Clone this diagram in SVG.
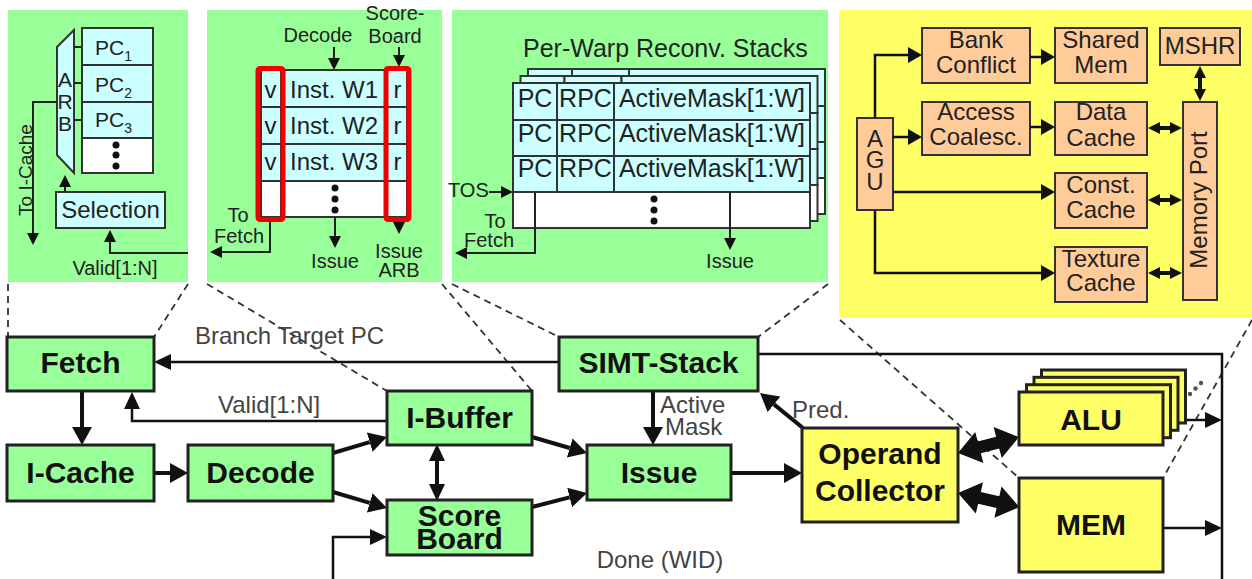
<svg xmlns="http://www.w3.org/2000/svg" width="1252" height="579" viewBox="0 0 1252 579">
<defs>
<style>
text{font-family:"Liberation Sans",Arial,Helvetica,sans-serif;fill:#222}
.node{fill:#99ff99;stroke:#222;stroke-width:3}
.ynode{fill:#ffff66;stroke:#222;stroke-width:3}
.panel{fill:#99ff99}
.ypanel{fill:#ffff66}
.cell{fill:#ccffff;stroke:#333;stroke-width:2}
.blank{fill:#fff;stroke:#333;stroke-width:2}
.mcell{fill:#ffcc99;stroke:#333;stroke-width:2}
.red{fill:none;stroke:#ee0000;stroke-width:5}
.lbl{font-size:30px;font-weight:bold;fill:#111;text-anchor:middle}
.note{font-size:24px;fill:#444}
.ptxt{font-size:20px;fill:#222}
.ctxt{font-size:24px;fill:#222}
.mid{text-anchor:middle}
.thick{fill:none;stroke:#111;stroke-width:4}
.thin{fill:none;stroke:#111;stroke-width:2.5}
.pline{fill:none;stroke:#222;stroke-width:2}
.zoom{fill:none;stroke:#333;stroke-width:1.8;stroke-dasharray:7 5}
.dot{fill:#111}
</style>
<marker id="hBig" markerUnits="userSpaceOnUse" viewBox="0 0 18 20" markerWidth="18" markerHeight="20" refX="0" refY="10" orient="auto-start-reverse"><path d="M0,0 L18,10 L0,20 z" fill="#111"/></marker>
<marker id="hMid" markerUnits="userSpaceOnUse" viewBox="0 0 17 16" markerWidth="17" markerHeight="16" refX="0" refY="8" orient="auto-start-reverse"><path d="M0,0 L17,8 L0,16 z" fill="#111"/></marker>
<marker id="hSm" markerUnits="userSpaceOnUse" viewBox="0 0 12 12" markerWidth="12" markerHeight="12" refX="0" refY="6" orient="auto-start-reverse"><path d="M0,0 L12,6 L0,12 z" fill="#111"/></marker>
<marker id="hMem" markerUnits="userSpaceOnUse" viewBox="0 0 14 16" markerWidth="14" markerHeight="16" refX="0" refY="8" orient="auto-start-reverse"><path d="M0,0 L14,8 L0,16 z" fill="#111"/></marker>
<!-- wide two-headed block arrow, 63 units long, drawn along +x -->
<path id="blockDbl" d="M0,0 L22,-16 L22,-6 L41,-6 L41,-16 L63,0 L41,16 L41,6 L22,6 L22,16 Z" fill="#111"/>
<!-- one layer of the reconvergence stack table (no text) -->
<g id="stkLayer">
<rect class="cell" x="513" y="83" width="44" height="37"/>
<rect class="cell" x="557" y="83" width="57" height="37"/>
<rect class="cell" x="614" y="83" width="196" height="37"/>
<rect class="cell" x="513" y="120" width="44" height="36"/>
<rect class="cell" x="557" y="120" width="57" height="36"/>
<rect class="cell" x="614" y="120" width="196" height="36"/>
<rect class="cell" x="513" y="156" width="44" height="36"/>
<rect class="cell" x="557" y="156" width="57" height="36"/>
<rect class="cell" x="614" y="156" width="196" height="36"/>
<rect class="blank" x="513" y="192" width="297" height="36"/>
</g>
<!-- one functional-unit plate -->
<rect id="aluPlate" class="ynode" x="1019" y="392" width="144" height="53"/>
</defs>

<rect width="1252" height="579" fill="#fff"/>

<!-- ===== detail: fetch arbitration ===== -->
<g id="detail-fetch">
<rect class="panel" x="8" y="10" width="180" height="272"/>
<polygon points="57,47 74,30 74,173 57,155" fill="#ccffff" stroke="#333" stroke-width="2"/>
<text x="65" y="87" font-size="21" class="mid">A</text>
<text x="65" y="109" font-size="21" class="mid">R</text>
<text x="65" y="131" font-size="21" class="mid">B</text>
<path class="pline" d="M74,47 H82 M74,83 H82 M74,120 H82"/>
<rect class="cell" x="82" y="28" width="71" height="37"/>
<rect class="cell" x="82" y="65" width="71" height="37"/>
<rect class="cell" x="82" y="102" width="71" height="36"/>
<rect class="blank" x="82" y="138" width="71" height="35"/>
<text x="95" y="55" font-size="21">PC<tspan font-size="14" dy="6">1</tspan></text>
<text x="95" y="92" font-size="21">PC<tspan font-size="14" dy="6">2</tspan></text>
<text x="95" y="127" font-size="21">PC<tspan font-size="14" dy="6">3</tspan></text>
<circle class="dot" cx="116" cy="145" r="3.5"/>
<circle class="dot" cx="116" cy="155" r="3.5"/>
<circle class="dot" cx="116" cy="166" r="3.5"/>
<rect class="cell" x="56" y="192" width="109" height="36"/>
<text x="110.5" y="218" font-size="24" class="mid">Selection</text>
<path class="pline" d="M57,102 H33 V233" marker-end="url(#hSm)"/>
<path class="pline" d="M65,192 V187" marker-end="url(#hSm)"/>
<path class="pline" d="M188,253 H110 V242" marker-end="url(#hSm)"/>
<text transform="translate(32,170) rotate(-90)" font-size="19" class="mid">To I-Cache</text>
<text x="115" y="275" class="ptxt mid">Valid[1:N]</text>
</g>

<!-- ===== detail: instruction buffer ===== -->
<g id="detail-ibuffer">
<rect class="panel" x="207" y="10" width="235" height="272"/>
<text x="318" y="42" class="ptxt mid">Decode</text>
<text x="395" y="20" class="ptxt mid">Score-</text>
<text x="395" y="43" class="ptxt mid">Board</text>
<path class="pline" d="M334,47 V58" marker-end="url(#hSm)"/>
<path class="pline" d="M399,47 V55" marker-end="url(#hSm)"/>
<rect class="cell" x="261" y="70" width="20" height="37"/>
<rect class="cell" x="281" y="70" width="106" height="37"/>
<rect class="cell" x="387" y="70" width="20" height="37"/>
<rect class="cell" x="261" y="107" width="20" height="37"/>
<rect class="cell" x="281" y="107" width="106" height="37"/>
<rect class="cell" x="387" y="107" width="20" height="37"/>
<rect class="cell" x="261" y="144" width="20" height="37"/>
<rect class="cell" x="281" y="144" width="106" height="37"/>
<rect class="cell" x="387" y="144" width="20" height="37"/>
<rect class="blank" x="261" y="181" width="20" height="36"/>
<rect class="blank" x="281" y="181" width="106" height="36"/>
<rect class="blank" x="387" y="181" width="20" height="36"/>
<rect class="red" x="258" y="68.5" width="25" height="151" rx="2"/>
<rect class="red" x="386" y="68.5" width="23" height="151" rx="2"/>
<text x="270.5" y="98" class="ctxt mid">v</text>
<text x="270.5" y="134" class="ctxt mid">v</text>
<text x="270.5" y="170" class="ctxt mid">v</text>
<text x="334" y="98" class="ctxt mid">Inst. W1</text>
<text x="334" y="134" class="ctxt mid">Inst. W2</text>
<text x="334" y="170" class="ctxt mid">Inst. W3</text>
<text x="397.5" y="98" class="ctxt mid">r</text>
<text x="397.5" y="134" class="ctxt mid">r</text>
<text x="397.5" y="170" class="ctxt mid">r</text>
<circle class="dot" cx="335" cy="188" r="3.5"/>
<circle class="dot" cx="335" cy="199" r="3.5"/>
<circle class="dot" cx="335" cy="210" r="3.5"/>
<path class="pline" d="M270,222 V252 H222" marker-end="url(#hSm)"/>
<path class="pline" d="M335,217 V236" marker-end="url(#hSm)"/>
<path class="pline" d="M399,221 V222" marker-end="url(#hSm)"/>
<text x="238" y="222" class="ptxt mid">To</text>
<text x="239" y="243" class="ptxt mid">Fetch</text>
<text x="335" y="268" class="ptxt mid">Issue</text>
<text x="399" y="258" class="ptxt mid">Issue</text>
<text x="399" y="277" class="ptxt mid">ARB</text>
</g>

<!-- ===== detail: per-warp reconvergence stacks ===== -->
<g id="detail-simt">
<rect class="panel" x="452" y="10" width="376" height="272"/>
<text x="523" y="57" font-size="25">Per-Warp Reconv. Stacks</text>
<use href="#stkLayer" transform="translate(15,-14)"/>
<use href="#stkLayer" transform="translate(7.5,-7)"/>
<use href="#stkLayer"/>
<g font-size="25" class="mid">
<text x="535" y="107">PC</text><text x="585.5" y="107">RPC</text><text x="712" y="107">ActiveMask[1:W]</text>
<text x="535" y="142">PC</text><text x="585.5" y="142">RPC</text><text x="712" y="142">ActiveMask[1:W]</text>
<text x="535" y="177">PC</text><text x="585.5" y="177">RPC</text><text x="712" y="177">ActiveMask[1:W]</text>
</g>
<circle class="dot" cx="654" cy="199" r="3.5"/>
<circle class="dot" cx="654" cy="210" r="3.5"/>
<circle class="dot" cx="654" cy="221" r="3.5"/>
<text x="448" y="197" class="ptxt">TOS</text>
<path class="pline" d="M489,192 H501" marker-end="url(#hSm)"/>
<path class="pline" d="M535,192 V253 H467" marker-end="url(#hSm)"/>
<path class="pline" d="M730,192 V238" marker-end="url(#hSm)"/>
<text x="495" y="228" class="ptxt mid">To</text>
<text x="489" y="247" class="ptxt mid">Fetch</text>
<text x="730" y="268" class="ptxt mid">Issue</text>
</g>

<!-- ===== detail: memory unit ===== -->
<g id="detail-mem">
<rect class="ypanel" x="839" y="10" width="413" height="308"/>
<rect class="mcell" x="922" y="28" width="108" height="55"/>
<text x="976" y="48" class="ctxt mid">Bank</text>
<text x="976" y="73" class="ctxt mid">Conflict</text>
<rect class="mcell" x="1055" y="28" width="92" height="55"/>
<text x="1101" y="48" class="ctxt mid">Shared</text>
<text x="1101" y="73" class="ctxt mid">Mem</text>
<rect class="mcell" x="1160" y="28" width="80" height="37"/>
<text x="1200" y="54" class="ctxt mid">MSHR</text>
<rect class="mcell" x="922" y="102" width="108" height="53"/>
<text x="976" y="120" class="ctxt mid">Access</text>
<text x="976" y="145" class="ctxt mid">Coalesc.</text>
<rect class="mcell" x="1055" y="102" width="92" height="53"/>
<text x="1101" y="120" class="ctxt mid">Data</text>
<text x="1101" y="146" class="ctxt mid">Cache</text>
<rect class="mcell" x="1055" y="173" width="92" height="55"/>
<text x="1101" y="193" class="ctxt mid">Const.</text>
<text x="1101" y="218" class="ctxt mid">Cache</text>
<rect class="mcell" x="1055" y="247" width="92" height="55"/>
<text x="1101" y="267" class="ctxt mid">Texture</text>
<text x="1101" y="291" class="ctxt mid">Cache</text>
<rect class="mcell" x="857" y="118" width="36" height="92"/>
<text x="875" y="147" class="ctxt mid">A</text>
<text x="875" y="168" class="ctxt mid">G</text>
<text x="875" y="190" class="ctxt mid">U</text>
<rect class="mcell" x="1183" y="102" width="34" height="198"/>
<text transform="translate(1207,200) rotate(-90)" class="ctxt mid">Memory Port</text>
<g class="thin">
<path d="M875,118 V55 H908" marker-end="url(#hMem)"/>
<path d="M893,137 H908" marker-end="url(#hMem)"/>
<path d="M893,192 H1041" marker-end="url(#hMem)"/>
<path d="M875,210 V273 H1041" marker-end="url(#hMem)"/>
<path d="M1030,57 H1041" marker-end="url(#hMem)"/>
<path d="M1030,127 H1041" marker-end="url(#hMem)"/>
</g>
<g class="thick">
<path d="M1160,128 H1170" marker-start="url(#hSm)" marker-end="url(#hSm)"/>
<path d="M1160,200 H1170" marker-start="url(#hSm)" marker-end="url(#hSm)"/>
<path d="M1160,273 H1170" marker-start="url(#hSm)" marker-end="url(#hSm)"/>
<path d="M1200,78 V89" marker-start="url(#hSm)" marker-end="url(#hSm)"/>
</g>
</g>

<!-- ===== dashed call-out lines ===== -->
<g id="callouts" class="zoom">
<path d="M8,284 V337"/>
<path d="M188,284 L154,337"/>
<path d="M207,284 L387,391"/>
<path d="M442,284 L532,391"/>
<path d="M452,284 L559,337"/>
<path d="M828,284 L758,337"/>
<path d="M840,320 L1019,478"/>
<path d="M1252,320 L1163,478"/>
</g>

<!-- ===== pipeline connectors ===== -->
<g id="connectors">
<path class="thin" d="M559,362 H171" marker-end="url(#hMid)"/>
<path class="thin" d="M387,421 H132 V409" marker-end="url(#hMid)"/>
<path class="thin" d="M758,354 H1222 V579"/>
<path class="thin" d="M1163,420 H1205" marker-end="url(#hMid)"/>
<path class="thin" d="M1163,528 H1205" marker-end="url(#hMid)"/>
<path class="thin" d="M333,579 V537 H370" marker-end="url(#hMid)"/>
<path class="thick" d="M82,391 V427" marker-end="url(#hBig)"/>
<path class="thick" d="M154,473 H170" marker-end="url(#hBig)"/>
<path class="thick" d="M333,453 L369.7,442.1" marker-end="url(#hBig)"/>
<path class="thick" d="M333,492 L369.7,502.9" marker-end="url(#hBig)"/>
<path class="thick" d="M437,461 V484" marker-start="url(#hMid)" marker-end="url(#hMid)"/>
<path class="thick" d="M532,437 L569.7,448" marker-end="url(#hBig)"/>
<path class="thick" d="M532,507 L569.6,497.4" marker-end="url(#hBig)"/>
<path class="thick" d="M653,391 V427" marker-end="url(#hBig)"/>
<path class="thick" d="M731,473 H784" marker-end="url(#hBig)"/>
<path class="thick" d="M803,428 L774,404.4" marker-end="url(#hBig)"/>
<use href="#blockDbl" transform="translate(958,453) rotate(-14.7)"/>
<use href="#blockDbl" transform="translate(958,493) rotate(12.9)"/>
<text x="195" y="344" class="note">Branch Target PC</text>
<text x="218" y="413" class="note">Valid[1:N]</text>
<text x="660" y="413" class="note">Active</text>
<text x="665" y="435" class="note">Mask</text>
<text x="792" y="418" class="note">Pred.</text>
<text x="660" y="568" class="note mid">Done (WID)</text>
</g>

<!-- ===== pipeline stages ===== -->
<g id="fetch"><rect class="node" x="7" y="337" width="147" height="54"/><text x="80.5" y="373" class="lbl">Fetch</text></g>
<g id="icache"><rect class="node" x="7" y="445" width="147" height="56"/><text x="80.5" y="483" class="lbl">I-Cache</text></g>
<g id="decode"><rect class="node" x="188" y="445" width="145" height="56"/><text x="260.5" y="483" class="lbl">Decode</text></g>
<g id="ibuffer"><rect class="node" x="387" y="391" width="145" height="54"/><text x="459.5" y="428" class="lbl">I-Buffer</text></g>
<g id="scoreboard"><rect class="node" x="387" y="500" width="145" height="55"/><text x="459.5" y="526" class="lbl">Score</text><text x="459.5" y="549" class="lbl">Board</text></g>
<g id="simt-stack"><rect class="node" x="559" y="337" width="199" height="54"/><text x="658.5" y="373" class="lbl">SIMT-Stack</text></g>
<g id="issue"><rect class="node" x="587" y="445" width="144" height="55"/><text x="659" y="483" class="lbl">Issue</text></g>
<g id="operand-collector"><rect class="ynode" x="802" y="428" width="156" height="94"/><text x="880" y="464" class="lbl">Operand</text><text x="880" y="501" class="lbl">Collector</text></g>
<g id="alu">
<use href="#aluPlate" transform="translate(22.5,-22)"/>
<use href="#aluPlate" transform="translate(15,-14.7)"/>
<use href="#aluPlate" transform="translate(7.5,-7.3)"/>
<use href="#aluPlate"/>
<text x="1091" y="430" class="lbl">ALU</text>
<circle cx="1190" cy="394" r="2.2" fill="#555533"/>
<circle cx="1195.5" cy="388.5" r="2.2" fill="#555533"/>
<circle cx="1201" cy="383" r="2.2" fill="#555533"/>
</g>
<g id="mem"><rect class="ynode" x="1019" y="478" width="144" height="94"/><text x="1091" y="535" class="lbl">MEM</text></g>
</svg>
